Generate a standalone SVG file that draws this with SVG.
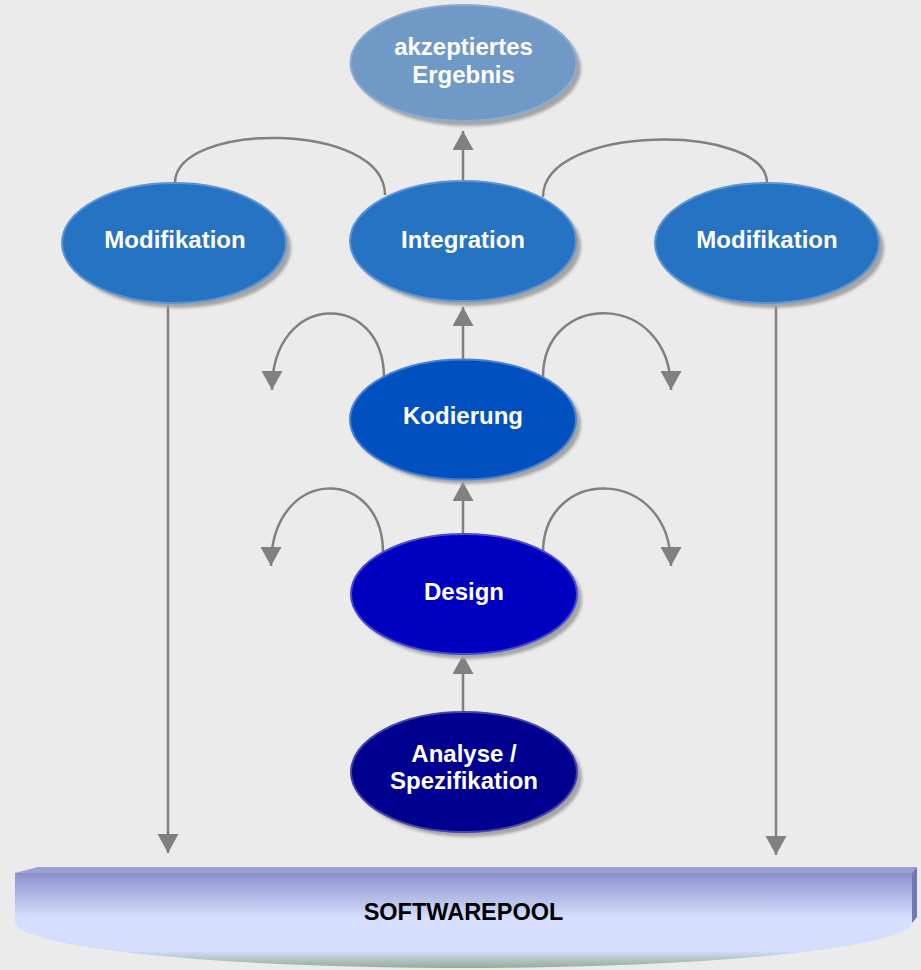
<svg xmlns="http://www.w3.org/2000/svg" width="921" height="970" viewBox="0 0 921 970">
<defs>
<style>
.lbl{font-family:"Liberation Sans",Arial,sans-serif;font-weight:bold;font-size:24px;fill:#ffffff;text-anchor:middle}
.pool{font-family:"Liberation Sans",Arial,sans-serif;font-weight:bold;font-size:23.5px;fill:#000000;text-anchor:middle}
.con{fill:none;stroke:#808080;stroke-width:2.5}
.shadow{fill:#a4a4a4;filter:url(#blur)}
</style>
<filter id="blur" x="-10%" y="-10%" width="120%" height="120%"><feGaussianBlur stdDeviation="1.5"/></filter>
<marker id="ah" markerUnits="userSpaceOnUse" markerWidth="20" markerHeight="22" refX="19" refY="10.5" orient="auto">
<path d="M0,0 L19,10.5 L0,21 z" fill="#808080"/>
</marker>
<linearGradient id="poolg" gradientUnits="userSpaceOnUse" x1="0" y1="867" x2="0" y2="969">
<stop offset="0" stop-color="#7f86c4"/>
<stop offset="0.5" stop-color="#d6dfff"/>
<stop offset="0.82" stop-color="#d4ddfc"/>
<stop offset="1" stop-color="#8eaa8e"/>
</linearGradient>
</defs>
<rect x="0" y="0" width="921" height="970" fill="#ebebeb"/>

<g id="connectors">
<line class="con" x1="463" y1="181" x2="463" y2="131" marker-end="url(#ah)"/>
<line class="con" x1="463" y1="359" x2="463" y2="307" marker-end="url(#ah)"/>
<line class="con" x1="463" y1="534" x2="463" y2="482" marker-end="url(#ah)"/>
<line class="con" x1="463" y1="712" x2="463" y2="655" marker-end="url(#ah)"/>
<path class="con" d="M175,183 C175,121 385,121 385,195"/>
<path class="con" d="M543,197 C543,123 767,123 767,183"/>
<path class="con" d="M384,378 C384,290 272,290 272,390" marker-end="url(#ah)"/>
<path class="con" d="M543,377 C543,290 671,290 671,390" marker-end="url(#ah)"/>
<path class="con" d="M383,553 C383,465 271,465 271,566" marker-end="url(#ah)"/>
<path class="con" d="M543,553 C543,465 671,465 671,566" marker-end="url(#ah)"/>
<line class="con" x1="168" y1="304" x2="168" y2="853" marker-end="url(#ah)"/>
<line class="con" x1="776" y1="304" x2="776" y2="855" marker-end="url(#ah)"/>
</g>

<g id="ergebnis">
<ellipse class="shadow" cx="468" cy="68" rx="113" ry="58"/>
<ellipse cx="463.5" cy="63" rx="113" ry="58" fill="#7099c6" stroke="#8cabd2" stroke-width="2"/>
<text class="lbl" x="463.5" y="55">akzeptiertes</text>
<text class="lbl" x="463.5" y="83">Ergebnis</text>
</g>

<g id="modifikation-links">
<ellipse class="shadow" cx="179" cy="248" rx="112" ry="60"/>
<ellipse cx="174" cy="243" rx="112" ry="60" fill="#2673c3" stroke="#5d94d2" stroke-width="2"/>
<text class="lbl" x="175" y="248">Modifikation</text>
</g>

<g id="integration">
<ellipse class="shadow" cx="468" cy="246" rx="113" ry="60"/>
<ellipse cx="463" cy="241" rx="113" ry="60" fill="#2673c3" stroke="#5d94d2" stroke-width="2"/>
<text class="lbl" x="463" y="248">Integration</text>
</g>

<g id="modifikation-rechts">
<ellipse class="shadow" cx="772" cy="248" rx="112" ry="60"/>
<ellipse cx="767" cy="243" rx="112" ry="60" fill="#2673c3" stroke="#5d94d2" stroke-width="2"/>
<text class="lbl" x="767" y="248">Modifikation</text>
</g>

<g id="kodierung">
<ellipse class="shadow" cx="468" cy="424" rx="113" ry="60"/>
<ellipse cx="463" cy="419.5" rx="113" ry="60" fill="#0050c0" stroke="#4a80d0" stroke-width="2"/>
<text class="lbl" x="463" y="424">Kodierung</text>
</g>

<g id="design">
<ellipse class="shadow" cx="469" cy="599" rx="113" ry="60"/>
<ellipse cx="464" cy="594" rx="113" ry="60" fill="#0000c0" stroke="#4a4ad0" stroke-width="2"/>
<text class="lbl" x="464" y="600">Design</text>
</g>

<g id="analyse">
<ellipse class="shadow" cx="469" cy="777" rx="113" ry="60"/>
<ellipse cx="464" cy="772" rx="113" ry="60" fill="#000090" stroke="#4444a8" stroke-width="2"/>
<text class="lbl" x="464" y="762">Analyse /</text>
<text class="lbl" x="464" y="789">Spezifikation</text>
</g>

<g id="softwarepool">
<path d="M15,873 L912,873 L912,922 A448.5,46 0 0 1 15,922 Z" fill="url(#poolg)"/>
<polygon points="15,873 38,867 917,867 912,873" fill="#9aa0d2"/>
<polygon points="912,873 917,867 917,917 912,923" fill="#7078b8"/>
<text class="pool" x="463.5" y="920">SOFTWAREPOOL</text>
</g>
</svg>
